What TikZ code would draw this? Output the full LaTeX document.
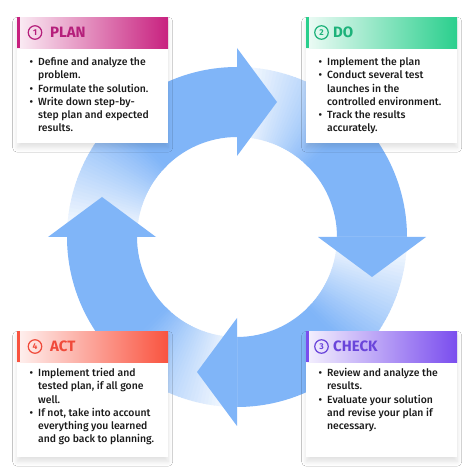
\documentclass[tikz,border=0pt]{standalone}
\usepackage{fontspec}
\setmainfont{Fira Sans}[UprightFont=* Medium, BoldFont=* Bold]
\usetikzlibrary{calc,shadows.blur}
\definecolor{ringblue}{HTML}{80B5F8}
\definecolor{textgray}{HTML}{1A1A1A}
\definecolor{plancol}{HTML}{C8217F}
\definecolor{plantext}{HTML}{B51F7B}
\definecolor{docol}{HTML}{2ACF8D}
\definecolor{dotext}{HTML}{1DB27A}
\definecolor{checkcol}{HTML}{7A4DEE}
\definecolor{checktext}{HTML}{6A45DA}
\definecolor{actcol}{HTML}{F9533F}
\definecolor{acttext}{HTML}{F04A3A}
\newcommand{\bul}{\makebox[8.5pt][l]{\textbullet}}
\begin{document}
\begin{tikzpicture}[x=1pt,y=1pt,
  boxbody/.style={fill=white, inner sep=0pt, minimum width=151pt, minimum height=126pt, anchor=north west,
    blur shadow={shadow xshift=0pt, shadow yshift=-4.5pt, shadow blur radius=4.5pt, shadow blur steps=12, shadow opacity=12}},
  headbar/.style={inner sep=0pt, minimum width=151pt, minimum height=31pt, anchor=north west, left color=#1!8, right color=#1},
  numcirc/.style={circle, draw=#1, line width=1.2pt, inner sep=0pt, minimum size=13.5pt, text=#1, font=\bfseries\fontsize{8.5}{9}\selectfont},
  boxtitle/.style={anchor=west, inner sep=0pt, text=#1, font=\bfseries\fontsize{15}{16}\selectfont},
  bodytext/.style={anchor=base west, inner sep=0pt, text=textgray, font=\fontsize{10.4}{13.3}\selectfont},
  sidebar/.style={line width=2.5pt, #1}
]
\fill[white] (0,0) rectangle (474,474);
\useasboundingbox (0,0) rectangle (474,474);

% ---- ring ----
\begin{scope}[shift={(237,237)}]
\foreach \p in {90,0,-90,-180}{
  \fill[ringblue] (\p+48:170) arc[start angle=\p+48, end angle=\p, radius=170] -- (\p:100) arc[start angle=\p, end angle=\p+48, radius=100] -- cycle;
  \foreach \i in {0,...,35}{
    \pgfmathsetmacro\angA{\p+90-\i*1.25}
    \pgfmathsetmacro\angB{\angA-1.6}
    \pgfmathsetmacro\mixv{(\i+0.5)/36*100}
    \fill[ringblue!\mixv!white] (\angA:170) arc[start angle=\angA, end angle=\angB, radius=170] -- (\angB:100) arc[start angle=\angB, end angle=\angA, radius=100] -- cycle;
  }
}
\foreach \p in {90,0,-90,-180}{
  \fill[ringblue] (\p:81) -- ($(\p:135)+(\p-90:40)$) -- (\p:189) -- cycle;
}
\end{scope}

% ---- PLAN ----
\node[boxbody] (planbox) at (17,457) {};
\node[headbar=plancol] (planhead) at (17,457) {};
\draw[sidebar=plancol] ([xshift=1.25pt]planhead.north west) -- ([xshift=1.25pt]planhead.south west);
\node[numcirc=plantext] (plannum) at (35,441.5) {1};
\node[boxtitle=plantext] (plantitle) at (50,441.5) {PLAN};
\node[bodytext] (plantxt) at (29.5,408.5) {\begin{tabular}[t]{@{}l@{}l@{}}
\bul & Define and analyze the\\
 & problem.\\
\bul & Formulate the solution.\\
\bul & Write down step-by-\\
 & step plan and expected\\
 & results.
\end{tabular}};

% ---- DO ----
\node[boxbody] (dobox) at (306,457) {};
\node[headbar=docol] (dohead) at (306,457) {};
\draw[sidebar=docol] ([xshift=1.25pt]dohead.north west) -- ([xshift=1.25pt]dohead.south west);
\node[numcirc=dotext] (donum) at (321.5,441.5) {2};
\node[boxtitle=dotext] (dotitle) at (333,441.5) {DO};
\node[bodytext] (dotxt) at (318.5,408.5) {\begin{tabular}[t]{@{}l@{}l@{}}
\bul & Implement the plan\\
\bul & Conduct several test\\
 & launches in the\\
 & controlled environment.\\
\bul & Track the results\\
 & accurately.
\end{tabular}};

% ---- ACT ----
\node[boxbody] (actbox) at (17,143) {};
\node[headbar=actcol] (acthead) at (17,143) {};
\draw[sidebar=actcol] ([xshift=1.25pt]acthead.north west) -- ([xshift=1.25pt]acthead.south west);
\node[numcirc=acttext] (actnum) at (35,127.5) {4};
\node[boxtitle=acttext] (acttitle) at (50,127.5) {ACT};
\node[bodytext] (acttxt) at (29.5,97.5) {\begin{tabular}[t]{@{}l@{}l@{}}
\bul & Implement tried and\\
 & tested plan, if all gone\\
 & well.\\
\bul & If not, take into account\\
 & everything you learned\\
 & and go back to planning.
\end{tabular}};

% ---- CHECK ----
\node[boxbody] (checkbox) at (306,143) {};
\node[headbar=checkcol] (checkhead) at (306,143) {};
\draw[sidebar=checkcol] ([xshift=1.25pt]checkhead.north west) -- ([xshift=1.25pt]checkhead.south west);
\node[numcirc=checktext] (checknum) at (321.5,127.5) {3};
\node[boxtitle=checktext] (checktitle) at (333,127.5) {CHECK};
\node[bodytext] (checktxt) at (318.5,97.5) {\begin{tabular}[t]{@{}l@{}l@{}}
\bul & Review and analyze the\\
 & results.\\
\bul & Evaluate your solution\\
 & and revise your plan if\\
 & necessary.
\end{tabular}};
\end{tikzpicture}
\end{document}
